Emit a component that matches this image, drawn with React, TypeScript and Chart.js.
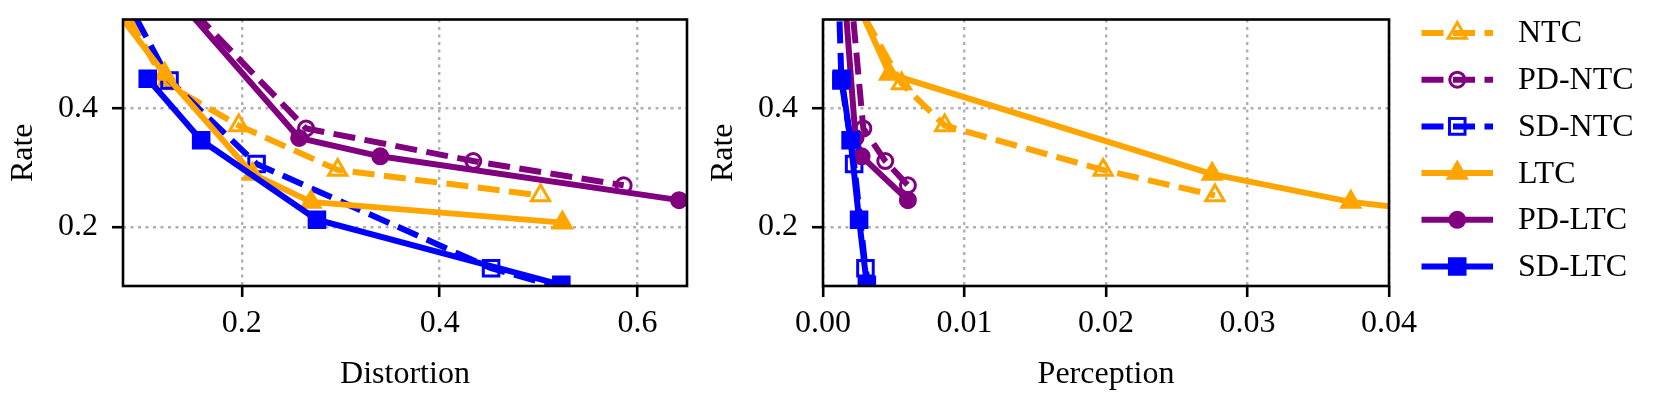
import React, { useEffect, useRef } from "react";
import { Chart, registerables } from "chart.js";
import { drawPoint } from "chart.js/helpers";

Chart.register(...registerables);

// ---------- data ----------
const SERIES_NAMES = ["NTC", "PD-NTC", "SD-NTC", "LTC", "PD-LTC", "SD-LTC"];

const RATE_NTC = [0.6, 0.442, 0.371, 0.296, 0.253];
const DIST_NTC = [0.0705, 0.123, 0.197, 0.297, 0.502];
const PERC_NTC = [0.00185, 0.00555, 0.0086, 0.0198, 0.0277];

const RATE_PD_NTC = [0.6, 0.366, 0.311, 0.27];
const DIST_PD_NTC = [0.13, 0.265, 0.434, 0.586];
const PERC_PD_NTC = [0.00195, 0.00285, 0.0044, 0.006];

const RATE_SD_NTC = [0.6, 0.447, 0.306, 0.13, 0.08];
const DIST_SD_NTC = [0.078, 0.127, 0.215, 0.452, 0.56];
const PERC_SD_NTC = [0.0011, 0.0013, 0.0022, 0.003, 0.0034];

const RATE_LTC = [0.6, 0.458, 0.289, 0.242, 0.207];
const DIST_LTC = [0.057, 0.122, 0.211, 0.27, 0.524];
const PERC_LTC = [0.002, 0.0047, 0.0275, 0.0373, 0.05];

const RATE_PD_LTC = [0.6, 0.35, 0.319, 0.245];
const DIST_PD_LTC = [0.127, 0.258, 0.34, 0.642];
const PERC_PD_LTC = [0.0015, 0.0023, 0.00273, 0.006];

const RATE_SD_LTC = [0.45, 0.346, 0.212, 0.102];
const DIST_SD_LTC = [0.105, 0.159, 0.276, 0.523];
const PERC_SD_LTC = [0.00132, 0.00195, 0.00255, 0.0031];

const DIST_TICKS = [0.2, 0.4, 0.6];
const PERC_TICKS = [0, 0.01, 0.02, 0.03, 0.04];
const RATE_TICKS = [0.2, 0.4];

// ---------- styles ----------
const ORANGE = "#FFA500";
const PURPLE = "#800080";
const BLUE = "#0000FF";
const FONT = "'Liberation Serif', 'Times New Roman', serif";
const FS = 32;
const LW = 6;
const DASH = [22, 9.5];

type Style = { color: string; dashed: boolean; marker: string; filled: boolean; radius: number };
const STYLES: Style[] = [
  { color: ORANGE, dashed: true, marker: "triangle", filled: false, radius: 10.5 },
  { color: PURPLE, dashed: true, marker: "circle", filled: false, radius: 7.5 },
  { color: BLUE, dashed: true, marker: "rect", filled: false, radius: 11 },
  { color: ORANGE, dashed: false, marker: "triangle", filled: true, radius: 10.5 },
  { color: PURPLE, dashed: false, marker: "circle", filled: true, radius: 7.5 },
  { color: BLUE, dashed: false, marker: "rect", filled: true, radius: 11 },
];

const RATES = [RATE_NTC, RATE_PD_NTC, RATE_SD_NTC, RATE_LTC, RATE_PD_LTC, RATE_SD_LTC];
const DISTS = [DIST_NTC, DIST_PD_NTC, DIST_SD_NTC, DIST_LTC, DIST_PD_LTC, DIST_SD_LTC];
const PERCS = [PERC_NTC, PERC_PD_NTC, PERC_SD_NTC, PERC_LTC, PERC_PD_LTC, PERC_SD_LTC];

function buildDatasets(xs: number[][]) {
  return SERIES_NAMES.map((name, i) => {
    const s = STYLES[i];
    return {
      label: name,
      data: xs[i].map((x, j) => ({ x, y: RATES[i][j] })),
      showLine: true,
      borderColor: s.color,
      borderWidth: LW,
      borderDash: s.dashed ? DASH : [],
      backgroundColor: s.color,
      pointStyle: s.marker,
      pointRadius: s.radius,
      pointBorderWidth: 3,
      pointBorderColor: s.color,
      pointBackgroundColor: s.filled ? s.color : "rgba(0,0,0,0)",
      tension: 0,
      clip: 0,
      order: SERIES_NAMES.length - i,
    };
  });
}

const framePlugin = {
  id: "frame",
  afterDatasetsDraw(chart: any) {
    const { ctx, chartArea } = chart;
    ctx.save();
    ctx.strokeStyle = "#000";
    ctx.lineWidth = 2.6;
    ctx.setLineDash([]);
    ctx.strokeRect(chartArea.left, chartArea.top, chartArea.right - chartArea.left, chartArea.bottom - chartArea.top);
    ctx.restore();
  },
};

const legendPlugin = {
  id: "customLegend",
  afterDraw(chart: any) {
    const { ctx } = chart;
    const x0 = 721.5;
    const x1 = 793;
    const tx = 818;
    const y0 = 33;
    const dy = 46.7;
    ctx.save();
    SERIES_NAMES.forEach((name, i) => {
      const s = STYLES[i];
      const y = y0 + i * dy;
      ctx.beginPath();
      ctx.strokeStyle = s.color;
      ctx.lineWidth = LW;
      ctx.lineCap = "butt";
      ctx.setLineDash(s.dashed ? DASH : []);
      ctx.moveTo(x0, y);
      ctx.lineTo(x1, y);
      ctx.stroke();
      ctx.setLineDash([]);
      ctx.fillStyle = s.filled ? s.color : "rgba(0,0,0,0)";
      ctx.strokeStyle = s.color;
      ctx.lineWidth = 3;
      drawPoint(ctx, { pointStyle: s.marker, radius: s.radius, rotation: 0, borderWidth: 3 } as any, (x0 + x1) / 2, y);
      ctx.fillStyle = "#000";
      ctx.font = `${FS}px ${FONT}`;
      ctx.textAlign = "left";
      ctx.textBaseline = "middle";
      ctx.fillText(name, tx, y + 1);
    });
    ctx.restore();
  },
};

function makeOptions(xMin: number, xMax: number, step: number, decimals: number, xTitle: string, rightPad: number, xTicks: number[]) {
  const tickFont = { family: FONT, size: FS };
  return {
    responsive: false,
    animation: false as const,
    devicePixelRatio: 1,
    layout: { autoPadding: false, padding: { left: 0, top: 19.5, right: rightPad, bottom: 0 } },
    plugins: { legend: { display: false }, tooltip: { enabled: false } },
    scales: {
      x: {
        type: "linear" as const,
        position: "bottom" as const,
        min: xMin,
        max: xMax,
        afterFit: (s: any) => {
          s.height = 113;
          s.paddingLeft = 0;
          s.paddingRight = 0;
        },
        afterBuildTicks: (s: any) => { s.ticks = xTicks.map((v) => ({ value: v })); },
        ticks: {
          stepSize: step,
          includeBounds: false,
          padding: 7,
          color: "#000",
          font: tickFont,
          maxRotation: 0,
          autoSkip: false,
          callback: (v: any) => Number(v).toFixed(decimals),
        },
        grid: {
          color: "#b0b0b0",
          lineWidth: 2.4,
          tickColor: "#000",
          tickWidth: 2.6,
          tickLength: 11,
          tickBorderDash: [0, 0],
          borderDash: [3, 4.5],
        },
        border: { display: false, dash: [3, 4.5] },
        title: { display: true, text: xTitle, color: "#000", font: tickFont, padding: { top: 0, bottom: 5 } },
      },
      y: {
        type: "linear" as const,
        position: "left" as const,
        min: 0.1,
        max: 0.55,
        afterFit: (s: any) => {
          s.width = 123;
          s.paddingTop = 0;
          s.paddingBottom = 0;
        },
        afterBuildTicks: (s: any) => { s.ticks = RATE_TICKS.map((v) => ({ value: v })); },
        ticks: {
          stepSize: 0.2,
          includeBounds: false,
          padding: 14,
          color: "#000",
          font: tickFont,
          callback: (v: any) => Number(v).toFixed(1),
        },
        grid: {
          color: "#b0b0b0",
          lineWidth: 2.4,
          tickColor: "#000",
          tickWidth: 2.6,
          tickLength: 11,
          tickBorderDash: [0, 0],
          borderDash: [3, 4.5],
        },
        border: { display: false, dash: [3, 4.5] },
        title: { display: true, text: "Rate", color: "#000", font: tickFont, padding: { top: 4, bottom: 0 } },
      },
    },
  };
}

export default function App() {
  const leftRef = useRef<HTMLCanvasElement>(null);
  const rightRef = useRef<HTMLCanvasElement>(null);

  useEffect(() => {
    const left = new Chart(leftRef.current as HTMLCanvasElement, {
      type: "scatter",
      data: { datasets: buildDatasets(DISTS) as any },
      options: makeOptions(0.08, 0.65, 0.2, 1, "Distortion", 73, DIST_TICKS) as any,
      plugins: [framePlugin],
    });
    const right = new Chart(rightRef.current as HTMLCanvasElement, {
      type: "scatter",
      data: { datasets: buildDatasets(PERCS) as any },
      options: makeOptions(0, 0.04, 0.01, 2, "Perception", 272, PERC_TICKS) as any,
      plugins: [framePlugin, legendPlugin],
    });
    return () => {
      left.destroy();
      right.destroy();
    };
  }, []);

  return (
    <div style={{ position: "fixed", left: 0, top: 0, width: 1661, height: 399, background: "#fff", overflow: "hidden" }}>
      <canvas ref={leftRef} width={760} height={399} style={{ position: "absolute", left: 0, top: 0, width: 760, height: 399 }} />
      <canvas ref={rightRef} width={961} height={399} style={{ position: "absolute", left: 700, top: 0, width: 961, height: 399 }} />
    </div>
  );
}
